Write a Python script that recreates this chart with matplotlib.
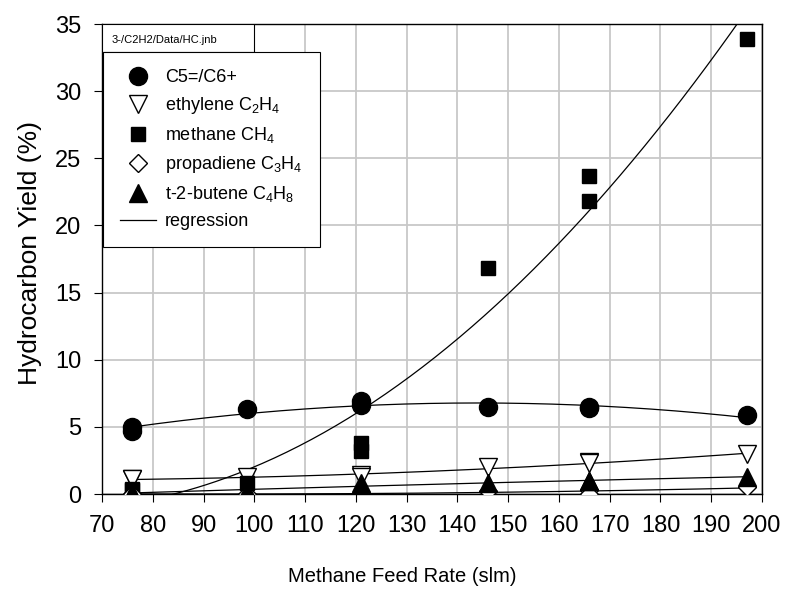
import numpy as np
import matplotlib.pyplot as plt
from matplotlib import font_manager
from matplotlib.patches import Rectangle

plt.rcParams['font.family'] = ['Liberation Sans', 'DejaVu Sans']
plt.rcParams['mathtext.default'] = 'regular'

# methane feed rate (slm) for each measurement
feed = [76, 76, 98.5, 121, 121, 146, 166, 166, 197]

c5_c6 = [5.0, 4.7, 6.3, 6.9, 6.6, 6.5, 6.45, 6.4, 5.9]
ethylene = [1.1, 1.1, 1.3, 1.4, 1.3, 2.0, 2.4, 2.3, 2.95]
methane = [0.4, 0.3, 0.8, 3.8, 3.2, 16.8, 23.7, 21.8, 33.9]
propadiene = [0.0, 0.0, 0.0, 0.1, 0.0, 0.2, 0.3, 0.0, 0.5]
butene = [0.1, 0.1, 0.2, 0.8, 0.5, 0.8, 1.0, 1.0, 1.3]

series = [
    (c5_c6, 'C5=/C6+', dict(marker='o', mfc='black', ms=13)),
    (ethylene, 'ethylene C$_2$H$_4$', dict(marker='v', mfc='white', ms=13)),
    (methane, 'methane CH$_4$', dict(marker='s', mfc='black', ms=10.5)),
    (propadiene, 'propadiene C$_3$H$_4$', dict(marker='D', mfc='white', ms=9.5)),
    (butene, 't-2-butene C$_4$H$_8$', dict(marker='^', mfc='black', ms=13)),
]

names = {f.name for f in font_manager.fontManager.ttflist}
if 'Liberation Sans Narrow' in names:
    xlab_font = dict(family=['Liberation Sans Narrow', 'DejaVu Sans'], fontsize=17.5)
else:
    xlab_font = dict(fontsize=14.5)

fig = plt.figure(figsize=(7.88, 5.9), dpi=100)
ax = fig.add_axes([0.1294, 0.1627, 0.8376, 0.7966])

x = np.array(feed)
xs = np.linspace(x.min(), x.max(), 200)
for y, label, style in series:
    kw = dict(mec='black', mew=1.0, ls='none')
    kw.update(style)
    ax.plot(feed, y, label=label, zorder=3, **kw)
    coef = np.polyfit(x, y, 2)
    ax.plot(xs, np.polyval(coef, xs), color='black', lw=0.9, zorder=2)
ax.plot([], [], color='black', lw=0.9, label='regression')

ax.set_xlim(70, 200)
ax.set_ylim(0, 35)
ax.set_xticks(np.arange(70, 201, 10))
ax.set_yticks(np.arange(0, 36, 5))
ax.grid(True, color='#c8c8c8', lw=1.3)
ax.set_axisbelow(True)
ax.tick_params(direction='out', labelsize=17, length=6, width=0.8, pad=9)
for s in ax.spines.values():
    s.set_linewidth(1.0)
ax.set_xlabel('Methane Feed Rate (slm)', **xlab_font)
ax.xaxis.set_label_coords(0.4545, -0.155)
ax.set_ylabel('Hydrocarbon Yield (%)', fontsize=19)
ax.yaxis.set_label_coords(-0.091, 0.513)

# file tag box in the upper left corner
ax.add_patch(Rectangle((0, 0.9404), 0.23, 0.0596, transform=ax.transAxes,
                       facecolor='white', edgecolor='black', lw=0.8, zorder=4))
ax.text(0.015, 0.966, '3-/C2H2/Data/HC.jnb', transform=ax.transAxes,
        fontsize=8, va='center', ha='left', zorder=5)

leg = ax.legend(loc='upper left', bbox_to_anchor=(0.0015, 0.9404), fontsize=13,
                frameon=True, fancybox=False, edgecolor='black', framealpha=1,
                handlelength=2.0, handletextpad=0.5, labelspacing=0.5,
                borderpad=0.95, borderaxespad=0)
leg.get_frame().set_linewidth(0.8)
leg.set_zorder(6)

fig.savefig('out.png', dpi=100)
